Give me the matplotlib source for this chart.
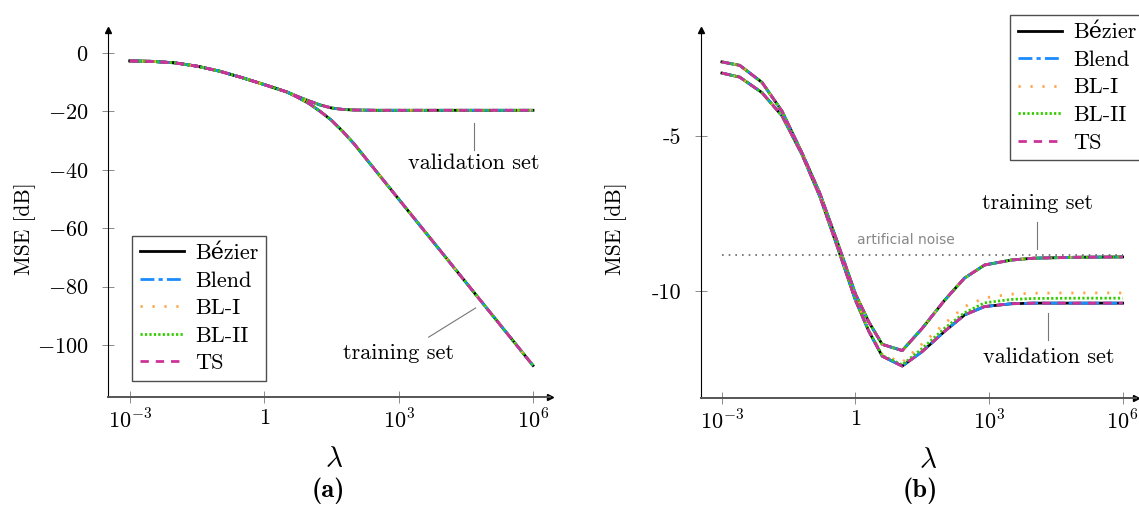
import numpy as np
import matplotlib
matplotlib.use("Agg")
import matplotlib.pyplot as plt

plt.rcParams['font.family'] = ['cmr10', 'DejaVu Serif']
plt.rcParams['mathtext.fontset'] = 'cm'
plt.rcParams['axes.unicode_minus'] = False

# ---- data (log10 of lambda, MSE in dB) ----
# panel (a)
loglam_a = [-3, -2.5, -2, -1.5, -1, -0.5, 0, 0.5, 0.75, 1, 1.25, 1.5, 1.75, 2,
            2.5, 3, 3.5, 4, 4.5, 5, 5.5, 6]
train_a = [-2.7, -2.85, -3.35, -4.5, -6.2, -8.4, -10.8, -13.3, -15.2, -17.3, -20.0,
           -23.0, -26.8, -31.0, -40.5, -50.0, -59.5, -69.0, -78.5, -88.0, -97.5, -107.0]
valid_a = [-2.7, -2.85, -3.35, -4.5, -6.2, -8.4, -10.8, -13.3, -14.9, -16.4, -17.8,
           -18.8, -19.3, -19.5, -19.6, -19.6, -19.6, -19.6, -19.6, -19.6, -19.6, -19.6]

# panel (b)
loglam_b = [-3, -2.6, -2.1, -1.65, -1.2, -0.8, -0.4, 0, 0.3, 0.6, 1.05, 1.5, 2,
            2.45, 2.9, 3.5, 4, 5, 6]
train_b = [-2.61, -2.72, -3.27, -4.2, -5.55, -6.85, -8.45, -10.1, -11.0, -11.72,
           -11.92, -11.2, -10.3, -9.58, -9.16, -9.0, -8.94, -8.91, -8.9]
valid_b = [-2.97, -3.1, -3.6, -4.35, -5.6, -6.95, -8.6, -10.3, -11.3, -12.1,
           -12.42, -11.95, -11.3, -10.77, -10.5, -10.41, -10.39, -10.39, -10.39]
valid_b_bl1 = [-2.97, -3.1, -3.6, -4.35, -5.6, -6.95, -8.6, -10.3, -11.25, -12.05,
               -12.3, -11.7, -11.05, -10.5, -10.22, -10.1, -10.07, -10.06, -10.06]
valid_b_bl2 = [-2.97, -3.1, -3.6, -4.35, -5.6, -6.95, -8.6, -10.3, -11.28, -12.08,
               -12.38, -11.85, -11.2, -10.7, -10.38, -10.27, -10.24, -10.23, -10.23]
noise_level = -8.84

methods = ['Bézier', 'Blend', 'BL-I', 'BL-II', 'TS']
styles = [
    dict(color='black', ls='-'),
    dict(color='#1a8cff', dashes=(5, 1.5, 1.5, 1.5)),
    dict(color='#ffa64d', dashes=(0.8, 3.5)),
    dict(color='#33cc00', dashes=(0.8, 0.8)),
    dict(color='#cc3399', dashes=(3, 2.5)),
]

fig = plt.figure(figsize=(11.39, 5.05), dpi=100)
ax1 = fig.add_axes([108 / 1139, 1 - 397 / 505, 442 / 1139, 367 / 505])
ax2 = fig.add_axes([701 / 1139, 1 - 398 / 505, 435 / 1139, 368 / 505])


def style_axes(ax, xlim, ylim, yticks, ylabels, ylab_x, xlab_x):
    ax.set_xscale('log')
    ax.set_xlim(10 ** xlim[0], 10 ** xlim[1])
    ax.set_ylim(*ylim)
    for s in ['top', 'right']:
        ax.spines[s].set_visible(False)
    ax.spines['left'].set_color('black')
    ax.spines['bottom'].set_color('#555555')
    ax.spines['bottom'].set_linewidth(1.4)
    ax.plot(1, 0, '>', color='black', ms=5, transform=ax.transAxes, clip_on=False)
    ax.plot(0, 1, '^', color='black', ms=5, transform=ax.transAxes, clip_on=False)
    ax.set_xticks([1e-3, 1, 1e3, 1e6])
    ax.set_xticklabels(['$10^{-3}$', '$1$', '$10^{3}$', '$10^{6}$'])
    ax.xaxis.set_minor_locator(matplotlib.ticker.NullLocator())
    ax.set_yticks(yticks)
    ax.set_yticklabels(ylabels)
    ax.tick_params(direction='inout', length=8, width=0.6, color='#777777',
                   labelsize=16)
    ax.tick_params(axis='x', pad=4)
    ax.tick_params(axis='y', pad=10)
    ax.set_ylabel('MSE [dB]', fontsize=15.5)
    ax.yaxis.set_label_coords(ylab_x, 0.46)
    ax.set_xlabel('$\\lambda$', fontsize=21)
    ax.xaxis.set_label_coords(xlab_x, -0.135)


style_axes(ax1, (-3.49, 6.38), (-117.8, 7.9), [0, -20, -40, -60, -80, -100],
           ['$0$', '$-20$', '$-40$', '$-60$', '$-80$', '$-100$'], -0.163, 0.511)
style_axes(ax2, (-3.47, 6.3), (-13.45, -1.58), [-5, -10], ['-5', '-10'],
           -0.17, 0.522)

x_a = 10.0 ** np.array(loglam_a)
x_b = 10.0 ** np.array(loglam_b)
val_b_sets = [valid_b, valid_b, valid_b_bl1, valid_b_bl2, valid_b]

for name, st, vb in zip(methods, styles, val_b_sets):
    ax1.plot(x_a, train_a, lw=2, label=name, **st)
    ax1.plot(x_a, valid_a, lw=2, **st)
    ax2.plot(x_b, train_b, lw=2, label=name, **st)
    ax2.plot(x_b, vb, lw=2, **st)

# artificial noise line
ax2.plot([1e-3, 1e6], [noise_level, noise_level], color='#666666', lw=1.2,
         dashes=(1, 3))
ax2.text(10 ** 1.13, -8.35, 'artificial noise', family='DejaVu Sans',
         fontsize=10, color='#888888', ha='center', va='center')

# annotations (a)
ax1.plot([10 ** 4.68, 10 ** 4.68], [-24, -33.2], color='#777777', lw=0.8)
ax1.text(10 ** 4.68, -37.7, 'validation set', fontsize=16, ha='center', va='center')
ax1.plot([10 ** 3.67, 10 ** 4.72], [-97.3, -87.3], color='#777777', lw=0.8)
ax1.text(10 ** 3.0, -102.7, 'training set', fontsize=16, ha='center', va='center')

# annotations (b)
ax2.plot([10 ** 4.08, 10 ** 4.08], [-7.77, -8.65], color='#777777', lw=0.8)
ax2.text(10 ** 4.08, -7.16, 'training set', fontsize=16, ha='center', va='center')
ax2.plot([10 ** 4.33, 10 ** 4.33], [-10.71, -11.58], color='#777777', lw=0.8)
ax2.text(10 ** 4.33, -12.13, 'validation set', fontsize=16, ha='center', va='center')

for ax, anchor, loc in [(ax1, (132 / 1139, 1 - 381 / 505), 'lower left'),
                        (ax2, (1010 / 1139, 1 - 15 / 505), 'upper left')]:
    leg = ax.legend(loc=loc, bbox_to_anchor=anchor, bbox_transform=fig.transFigure,
                    fontsize=16, frameon=True, fancybox=False, borderpad=0.35,
                    handlelength=2.0, handletextpad=0.5, labelspacing=0.36,
                    borderaxespad=0)
    leg.get_frame().set_edgecolor('#222222')
    leg.get_frame().set_linewidth(1.0)

fig.text(328 / 1139, 1 - 491 / 505, '(a)', family='cmb10', fontsize=19,
         ha='center', va='center')
fig.text(920 / 1139, 1 - 491 / 505, '(b)', family='cmb10', fontsize=19,
         ha='center', va='center')

fig.savefig('out.png', dpi=100)
